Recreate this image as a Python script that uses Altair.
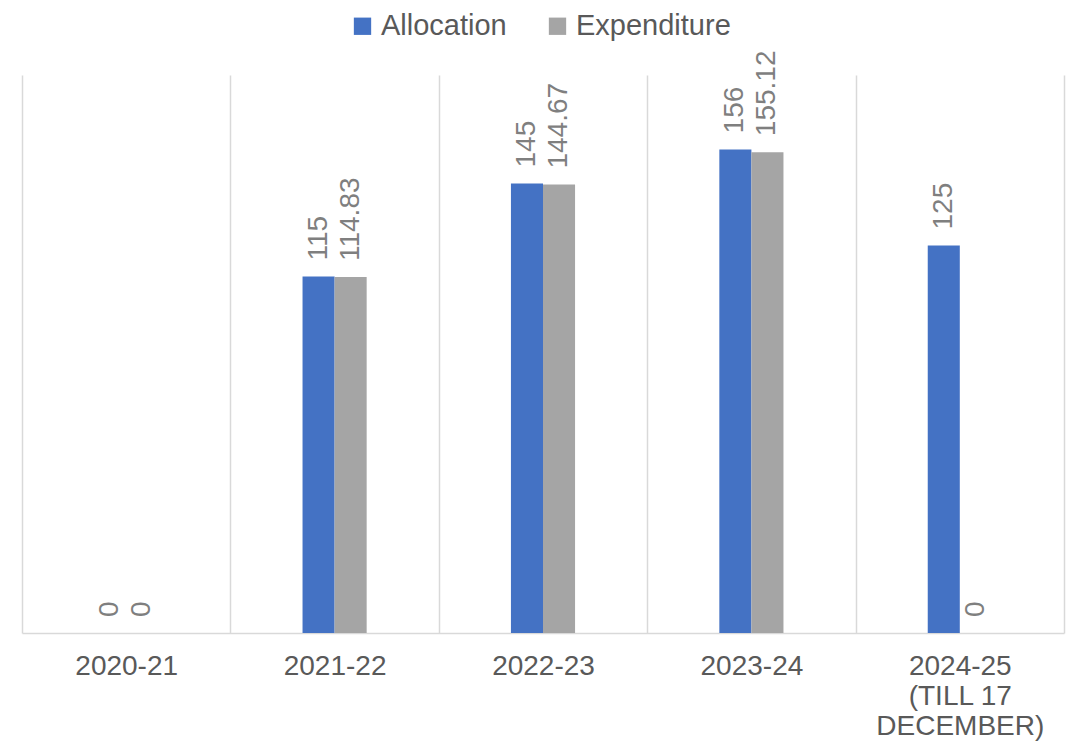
import altair as alt
import pandas as pd

categories = ["2020-21", "2021-22", "2022-23", "2023-24", "2024-25 (TILL 17 DECEMBER)"]
allocation = [0, 115, 145, 156, 125]
expenditure = [0, 114.83, 144.67, 155.12, 0]
series = ["Allocation", "Expenditure"]
colors = ["#4472C4", "#A5A5A5"]

rows = []
for c, a, e in zip(categories, allocation, expenditure):
    rows.append({"category": c, "series": series[0], "value": a})
    rows.append({"category": c, "series": series[1], "value": e})
df = pd.DataFrame(rows)

FONT = "Liberation Sans"

label_expr = (
    "datum.label == '2024-25 (TILL 17 DECEMBER)' ? "
    "['2024-25', '(TILL 17', 'DECEMBER)'] : datum.label"
)

# offset slots: two empty slots on each side give the gap around each bar pair
offset_domain = ["_pad1", "_pad2"] + series + ["_pad3", "_pad4"]

x_enc = alt.X(
    "category:N",
    sort=categories,
    scale=alt.Scale(paddingInner=0, paddingOuter=0),
    axis=alt.Axis(
        title=None,
        labelAngle=0,
        grid=True,
        tickBand="extent",
        ticks=False,
        domain=True,
        domainColor="#d9d9d9",
        domainWidth=1.5,
        gridColor="#d9d9d9",
        gridWidth=1.5,
        labelFont=FONT,
        labelFontSize=28,
        labelColor="#595959",
        labelPadding=19,
        labelLineHeight=30,
        labelExpr=label_expr,
        labelLimit=400,
    ),
)
xoff_enc = alt.XOffset(
    "series:N",
    scale=alt.Scale(domain=offset_domain, paddingInner=0, paddingOuter=0.25),
)
y_enc = alt.Y(
    "value:Q",
    scale=alt.Scale(domain=[0, 180], nice=False, zero=True),
    axis=None,
)

bars = alt.Chart(df).mark_bar(strokeWidth=0).encode(
    x=x_enc,
    xOffset=xoff_enc,
    y=y_enc,
    color=alt.Color(
        "series:N",
        sort=series,
        scale=alt.Scale(domain=series, range=colors),
        legend=alt.Legend(
            title=None,
            orient="none",
            legendX=326,
            legendY=-63.5,
            direction="horizontal",
            symbolType="square",
            symbolSize=300,
            symbolStrokeWidth=0,
            labelFont=FONT,
            labelFontSize=29,
            labelColor="#595959",
            labelOffset=4,
            columnPadding=36,
            padding=0,
        ),
    ),
)

labels = alt.Chart(df).mark_text(
    angle=270,
    align="left",
    baseline="middle",
    dx=16,
    font=FONT,
    fontSize=28,
    color="#7f7f7f",
).encode(
    x=x_enc,
    xOffset=xoff_enc,
    y=y_enc,
    text=alt.Text("value:Q"),
)

chart = (
    alt.layer(bars, labels)
    .properties(
        width=1042,
        height=558,
        autosize=alt.AutoSizeParams(type="none"),
        padding={"left": 14, "top": 67, "right": 10, "bottom": 109},
    )
    .configure_view(strokeWidth=0)
)

chart.save("out.html", embed_options={"renderer": "svg", "actions": False})
